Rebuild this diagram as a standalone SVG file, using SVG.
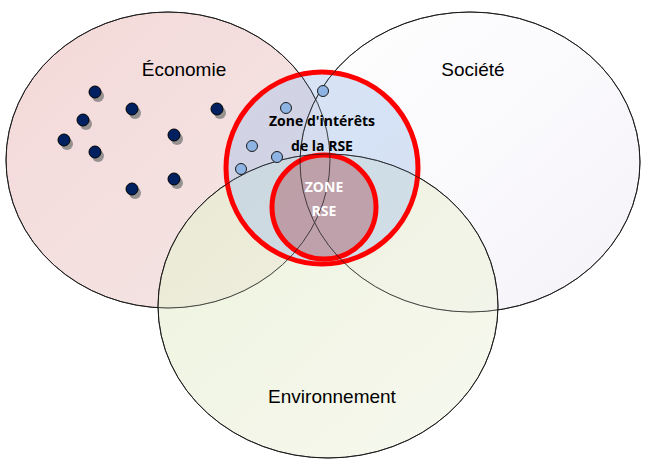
<svg xmlns="http://www.w3.org/2000/svg" width="650" height="467" viewBox="0 0 650 467">
<style>
.set{stroke:#1a1a1a;stroke-width:1}
.lbl{font-family:"Liberation Sans",Arial,sans-serif;font-size:19px;fill:#000;text-anchor:middle}
.bl{font-family:"Open Sans","Liberation Sans",sans-serif;font-size:14px;font-weight:bold;text-anchor:middle}
.dd{fill:#002060;stroke:#000;stroke-width:1}
.ld{fill:#8eb4e3;stroke:#1a1a1a;stroke-width:1}
.sh{fill:#7f7f7f;opacity:.8}
.rz{fill:none;stroke:#ff0000;stroke-width:5}
</style>
<defs>
<linearGradient id="gs" x1="0" y1="0" x2="1" y2="1"><stop offset="0" stop-color="#ffffff"/><stop offset="1" stop-color="#eeeaf4"/></linearGradient>
<linearGradient id="ge" x1="0" y1="0" x2="1" y2="1"><stop offset="0" stop-color="#f4d9d8"/><stop offset="1" stop-color="#f3e6e5"/></linearGradient>
<linearGradient id="gv" x1="0" y1="0" x2="1" y2="1"><stop offset="0" stop-color="#e6edcf"/><stop offset="1" stop-color="#f3f6e8"/></linearGradient>
</defs>
<g id="economie"><ellipse class="set" cx="168" cy="160" rx="162" ry="148" fill="url(#ge)"/></g>
<g id="societe"><ellipse class="set" cx="470" cy="162" rx="170" ry="150" fill="url(#gs)" fill-opacity="0.6"/></g>
<g id="environnement"><ellipse class="set" cx="328" cy="306" rx="170" ry="152" fill="url(#gv)" fill-opacity="0.7"/></g>
<g id="zone-interets">
<circle cx="322" cy="168" r="96" fill="#a9c4ec" fill-opacity="0.45"/>
<circle cx="322" cy="168" r="96" class="rz"/>
</g>
<g id="zone-rse">
<circle cx="324" cy="207" r="52" fill="#b0707a" fill-opacity="0.55"/>
<circle cx="324" cy="207" r="52" class="rz"/>
</g>
<g id="outlines" fill="none" stroke="#1a1a1a" stroke-width="1" opacity="0.7">
<ellipse cx="168" cy="160" rx="162" ry="148"/>
<ellipse cx="470" cy="162" rx="170" ry="150"/>
<ellipse cx="328" cy="306" rx="170" ry="152"/>
</g>
<g id="dots">
<g transform="translate(3,4)" class="sh">
<circle cx="95" cy="92" r="6"/><circle cx="83" cy="120" r="6"/><circle cx="64" cy="140" r="6"/><circle cx="95" cy="152" r="6"/><circle cx="132" cy="109" r="6"/><circle cx="174" cy="135" r="6"/><circle cx="174" cy="179" r="6"/><circle cx="132" cy="189" r="6"/><circle cx="217" cy="109" r="6"/>
</g>
<circle class="dd" cx="95" cy="92" r="6"/><circle class="dd" cx="83" cy="120" r="6"/><circle class="dd" cx="64" cy="140" r="6"/><circle class="dd" cx="95" cy="152" r="6"/><circle class="dd" cx="132" cy="109" r="6"/><circle class="dd" cx="174" cy="135" r="6"/><circle class="dd" cx="174" cy="179" r="6"/><circle class="dd" cx="132" cy="189" r="6"/><circle class="dd" cx="217" cy="109" r="6"/>
<circle class="ld" cx="323" cy="91" r="5.5"/><circle class="ld" cx="286" cy="108" r="5.5"/><circle class="ld" cx="252" cy="146" r="5.5"/><circle class="ld" cx="277" cy="157" r="5.5"/><circle class="ld" cx="241" cy="169" r="5.5"/>
</g>
<g id="labels">
<text class="lbl" x="184" y="76">Économie</text>
<text class="lbl" x="473" y="76">Société</text>
<text class="lbl" x="332" y="403">Environnement</text>
<text class="bl" x="322" y="126" fill="#000">Zone d'intérêts</text>
<text class="bl" x="322" y="151" fill="#000">de la RSE</text>
<text class="bl" x="324" y="192" fill="#fff">ZONE</text>
<text class="bl" x="324" y="216" fill="#fff">RSE</text>
</g>
</svg>
